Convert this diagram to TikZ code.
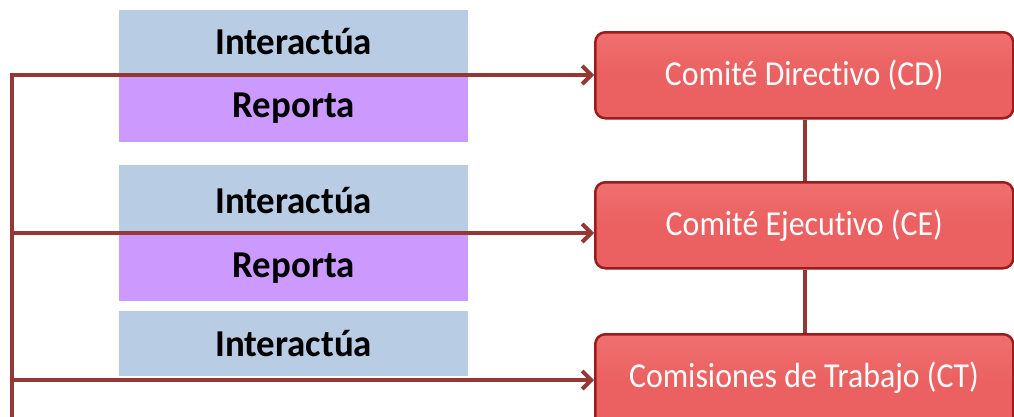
\documentclass[tikz,border=0pt]{standalone}
\usepackage{fontspec}
\setmainfont{Carlito}
\newfontfamily\bandfont[FakeStretch=0.97,Ligatures=NoCommon]{Carlito}
\newfontfamily\boxfont[FakeStretch=0.91,Ligatures=NoCommon]{Carlito}
\usetikzlibrary{arrows.meta}
\definecolor{lblue}{HTML}{B8CCE4}
\definecolor{lpurple}{HTML}{CC99FF}
\definecolor{boxred}{HTML}{EB6060}
\definecolor{boxtop}{HTML}{EF7070}
\definecolor{boxedge}{HTML}{9A1C1C}
\definecolor{linered}{HTML}{953735}
\tikzset{
  x=1pt,y=-1pt,
  band/.style={minimum width=349pt,minimum height=#1,inner sep=0pt,anchor=north west,font=\bandfont\bfseries\fontsize{38}{40}\selectfont},
  bluebox/.style={band=#1,fill=lblue},
  purplebox/.style={band=#1,fill=lpurple},
  redbox/.style={draw=boxedge,line width=2.5pt,top color=boxtop,bottom color=boxred,middle color=boxred,rounded corners=10pt,minimum width=418pt,minimum height=86pt,inner sep=0pt,anchor=north west,text=white,font=\boxfont\fontsize{35}{36}\selectfont},
  conn/.style={draw=linered,line width=4.5pt},
  arr/.style={conn,-{Straight Barb[length=9pt,width=18pt,line width=4pt]}}
}
\begin{document}
\begin{tikzpicture}
\useasboundingbox (0,0) rectangle (1014,416);
\node[bluebox=63pt] (i1) at (119,10) {Interactúa};
\node[purplebox=69pt] (r1) at (119,73) {Reporta};
\node[bluebox=70pt] (i2) at (119,165) {Interactúa};
\node[purplebox=66pt] (r2) at (119,235) {Reporta};
\node[bluebox=65pt] (i3) at (119,311) {Interactúa};
\node[redbox] (cd) at (594,31) {Comité Directivo (CD)};
\node[redbox] (ce) at (594,181) {Comité Ejecutivo (CE)};
\node[redbox,minimum height=100pt] (ct) at (594,333) {};
\node[text=white,font=\boxfont\fontsize{35}{36}\selectfont] (ctl) at (804,378) {Comisiones de Trabajo (CT)};
\draw[conn] (cd.south -| 805,0) -- (ce.north -| 805,0);
\draw[conn] (ce.south -| 805,0) -- (ct.north -| 805,0);
\coordinate (top) at (12,75);
\coordinate (bot) at (12,420);
\draw[conn] (bot) -- (top);
\draw[arr] (10,75) -- (cd.west |- 0,75);
\draw[arr] (12,233) -- (ce.west |- 0,233);
\draw[arr] (12,380) -- (ct.west |- 0,380);
\end{tikzpicture}
\end{document}
